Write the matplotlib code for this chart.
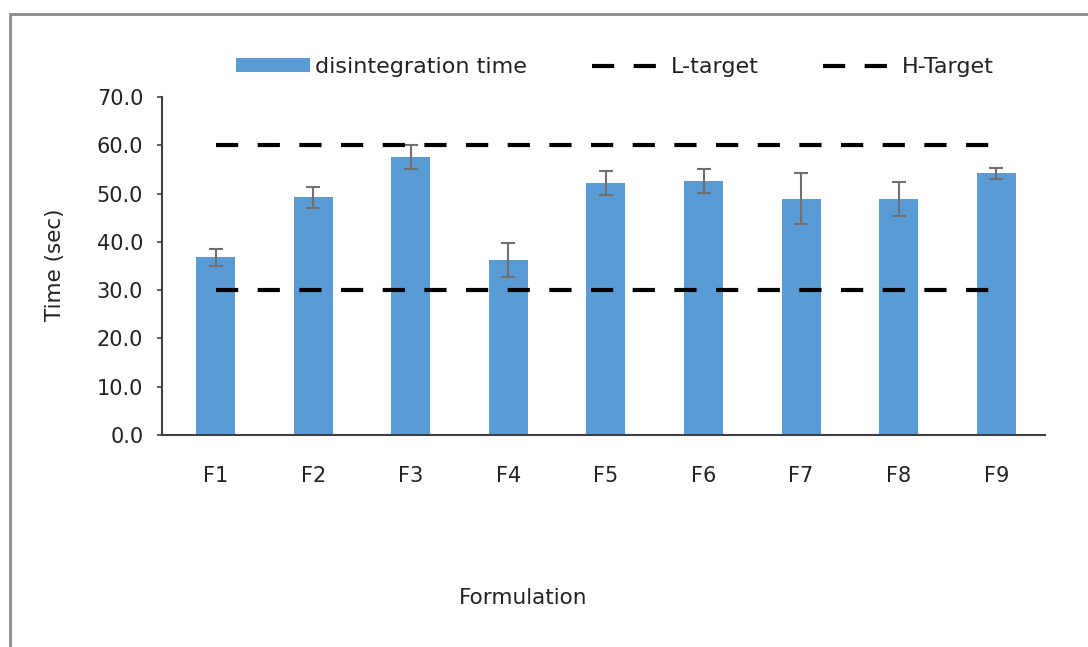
import matplotlib.pyplot as plt
from matplotlib.patches import Rectangle

formulations = ["F1", "F2", "F3", "F4", "F5", "F6", "F7", "F8", "F9"]
disintegration = [36.8, 49.2, 57.5, 36.3, 52.2, 52.6, 48.9, 48.9, 54.2]
errors = [1.7, 2.1, 2.5, 3.5, 2.4, 2.5, 5.3, 3.6, 1.1]
low_target = [30] * 9
high_target = [60] * 9

plt.rcParams['font.family'] = 'DejaVu Sans'
plt.rcParams['lines.scale_dashes'] = False

fig = plt.figure(figsize=(10.88, 6.47), dpi=100)
ax = fig.add_axes([162/1088, 1 - 435/647, (1045-162)/1088, (435-97)/647])

x = range(len(formulations))
bars = ax.bar(x, disintegration, width=0.4, color="#5B9BD5", label="disintegration time",
              yerr=errors, error_kw=dict(ecolor="#707070", elinewidth=1.5, capsize=5, capthick=1.5))
l1, = ax.plot(x, low_target, color="black", lw=3, dashes=(16, 14), label="L-target")
l2, = ax.plot(x, high_target, color="black", lw=3, dashes=(16, 14), label="H-Target")

ax.set_xlim(-0.55, 8.5)
ax.set_ylim(0, 70)
ax.set_yticks(range(0, 71, 10))
ax.set_yticklabels([f"{v:.1f}" for v in range(0, 71, 10)])
ax.set_xticks(list(x))
ax.set_xticklabels(formulations)

for s in ["top", "right"]:
    ax.spines[s].set_visible(False)
for s in ["left", "bottom"]:
    ax.spines[s].set_color("#404040")
    ax.spines[s].set_linewidth(1.5)
ax.tick_params(axis="y", length=3.5, width=1.2, color="#404040", labelsize=15, pad=10,
               labelcolor="#222222")
ax.tick_params(axis="x", length=0, labelsize=15, pad=22, labelcolor="#222222")

fig.text(55/1088, 1 - 265/647, "Time (sec)", fontsize=15.5, rotation=90,
         ha="center", va="center", color="#222222")
fig.text(523/1088, 1 - 598/647, "Formulation", fontsize=15.5, ha="center", va="center",
         color="#222222")

fig.legend(handles=[bars, l1, l2], loc="center", bbox_to_anchor=(615/1088, 1 - 67/647),
           ncol=3, frameon=False, fontsize=16, handlelength=3.3, handleheight=0.55,
           columnspacing=2.9, handletextpad=0.25, labelcolor="#222222")

fig.patches.append(Rectangle((10/1088, -0.1), 1.2, 1.1 - 14/647, transform=fig.transFigure,
                             fill=False, edgecolor="#8a8a8a", lw=2))

fig.savefig("out.png", dpi=100)
